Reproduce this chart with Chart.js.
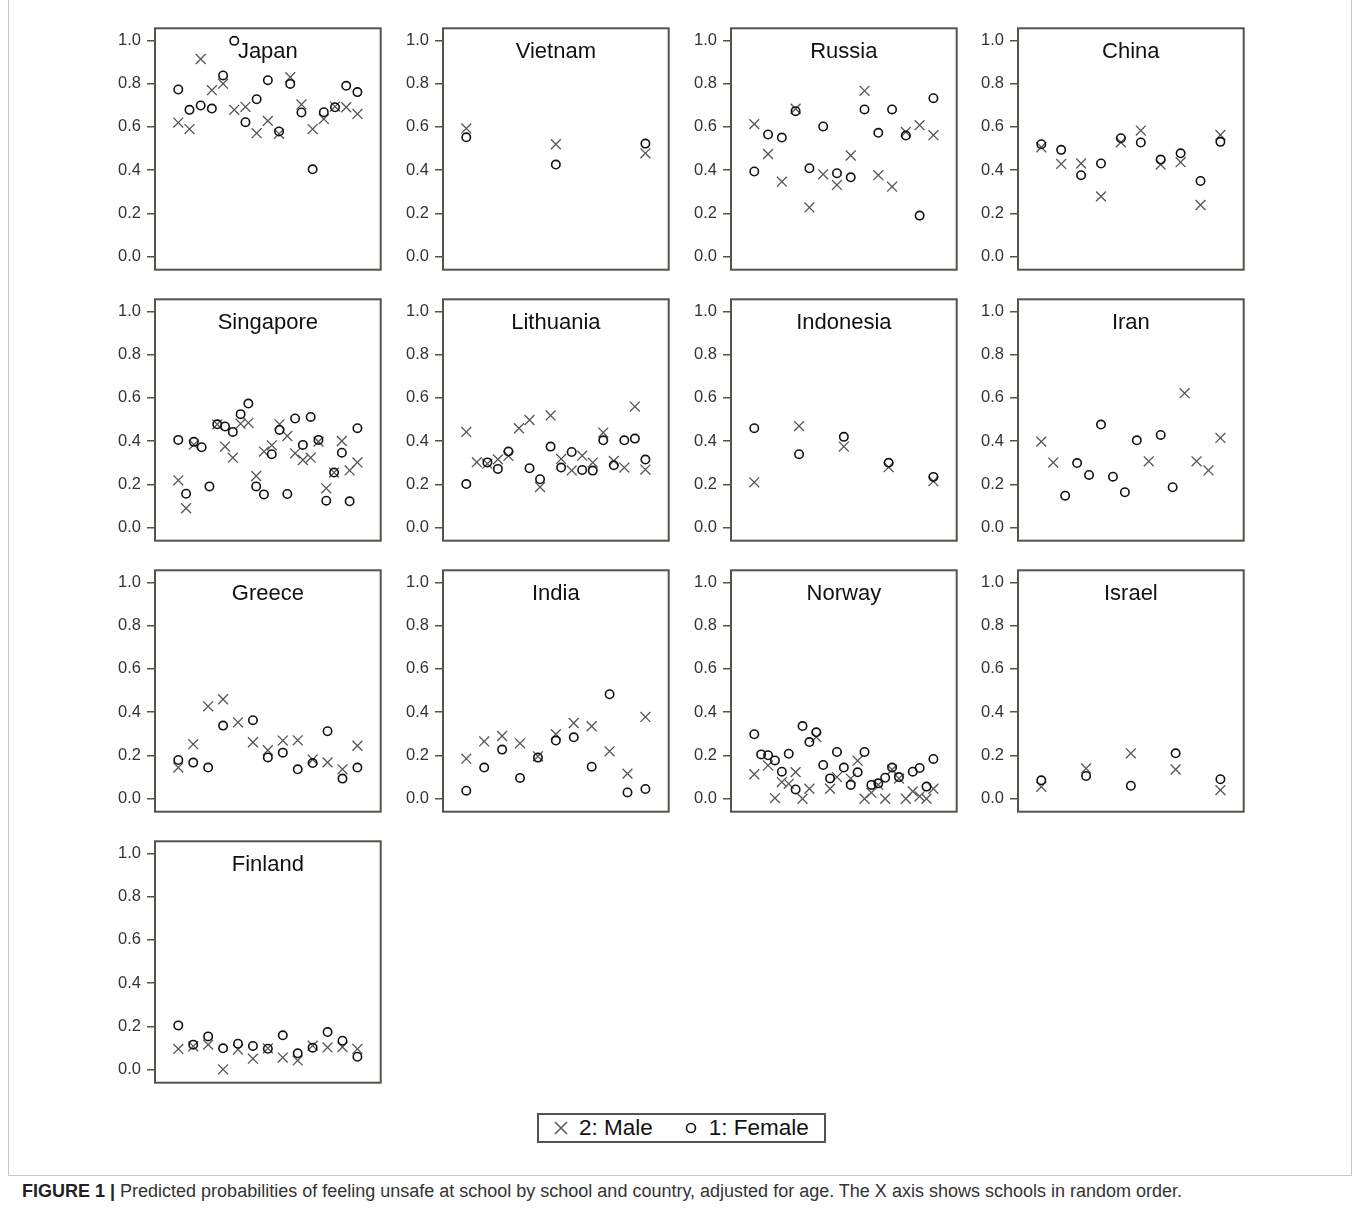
<!DOCTYPE html>
<html>
<head>
<meta charset="utf-8">
<script src="https://cdn.jsdelivr.net/npm/chart.js@4"></script>
<style>
  body { margin: 0; background: #fff; font-family: "Liberation Sans", Arial, sans-serif; }
  #page { position: relative; width: 1358px; height: 1209px; }
  #frame { position: absolute; left: 8px; top: -2px; width: 1342px; height: 1177px; border: 1px solid #c8c8c8; border-top: none; }
  .panel { position: absolute; }
  #legend { position: absolute; left: 537px; top: 1113px; width: 285px; height: 26px; border: 2px solid #57534a;
            display: flex; align-items: center; font-size: 22.5px; color: #111; }
  #legend svg { margin: 0 10px 0 14px; }
  #caption { position: absolute; left: 22px; top: 1181px; font-size: 18px; color: #333; }
  #caption b { color: #222; }
</style>
</head>
<body>
<div id="page">
  <div id="frame"></div>
  <div id="legend">
    <svg width="16" height="16"><path d="M2 2 L14 14 M14 2 L2 14" stroke="#555" stroke-width="1.5"/></svg>2: Male
    <svg width="16" height="16" style="margin-left:30px"><circle cx="8" cy="8" r="4.5" fill="none" stroke="#111" stroke-width="1.6"/></svg>1: Female
  </div>
  <div id="caption"><b>FIGURE 1 |</b> Predicted probabilities of feeling unsafe at school by school and country, adjusted for age. The X axis shows schools in random order.</div>
</div>
<script>
// Probabilidades estimadas por escuela (orden aleatorio), hombres y mujeres
const yTicks = [0, 0.2, 0.4, 0.6, 0.8, 1.0];

const japanMale = [0.62, 0.59, 0.914, 0.77, 0.80, 0.679, 0.693, 0.571, 0.628, 0.568, 0.83, 0.704, 0.59, 0.637, 0.694, 0.691, 0.66];
const japanFemale = [0.773, 0.679, 0.699, 0.685, 0.838, 0.998, 0.622, 0.728, 0.816, 0.579, 0.799, 0.667, 0.404, 0.668, 0.691, 0.79, 0.761];

const vietnamMale = [0.593, 0.52, 0.478];
const vietnamFemale = [0.552, 0.426, 0.523];

const russiaMale = [0.613, 0.475, 0.347, 0.684, 0.228, 0.381, 0.332, 0.468, 0.767, 0.377, 0.324, 0.577, 0.608, 0.562];
const russiaFemale = [0.394, 0.565, 0.551, 0.673, 0.409, 0.602, 0.386, 0.367, 0.681, 0.573, 0.681, 0.56, 0.19, 0.733];

const chinaMale = [0.506, 0.429, 0.431, 0.279, 0.529, 0.583, 0.426, 0.437, 0.239, 0.563];
const chinaFemale = [0.52, 0.494, 0.377, 0.431, 0.548, 0.528, 0.449, 0.478, 0.35, 0.531];

const singaporeMale = [0.219, 0.09, 0.384, null, null, 0.478, 0.375, 0.324, 0.481, 0.485, 0.239, 0.352, 0.381, 0.478, 0.424, 0.344, 0.313, 0.324, 0.398, 0.182, 0.255, 0.401, 0.265, 0.302];
const singaporeFemale = [0.406, 0.157, 0.397, 0.372, 0.191, 0.478, 0.468, 0.443, 0.525, 0.574, 0.191, 0.154, 0.34, 0.452, 0.156, 0.505, 0.383, 0.512, 0.406, 0.125, 0.255, 0.347, 0.122, 0.46];

const lithuaniaMale = [0.443, 0.303, 0.296, 0.316, 0.332, 0.46, 0.498, 0.188, 0.519, 0.318, 0.265, 0.333, 0.301, 0.44, 0.309, 0.278, 0.56, 0.269];
const lithuaniaFemale = [0.202, null, 0.302, 0.272, 0.352, null, 0.275, 0.224, 0.375, 0.278, 0.35, 0.267, 0.264, 0.404, 0.289, 0.404, 0.412, 0.315];

const indonesiaMale = [0.21, 0.47, 0.375, 0.28, 0.215];
const indonesiaFemale = [0.46, 0.34, 0.42, 0.30, 0.235];

const iranMale = [0.398, 0.301, null, null, null, null, null, null, null, 0.307, null, null, 0.622, 0.307, 0.265, 0.415];
const iranFemale = [null, null, 0.148, 0.299, 0.244, 0.477, 0.236, 0.164, 0.404, null, 0.429, 0.187, null, null, null, null];

const greeceMale = [0.144, 0.252, 0.427, 0.46, 0.353, 0.261, 0.224, 0.269, 0.27, 0.181, 0.168, 0.136, 0.245];
const greeceFemale = [0.179, 0.167, 0.144, 0.338, null, 0.363, 0.191, 0.213, 0.136, 0.165, 0.312, 0.093, 0.144];

const indiaMale = [0.185, 0.265, 0.29, 0.256, 0.196, 0.298, 0.35, 0.335, 0.219, 0.116, 0.378];
const indiaFemale = [0.037, 0.144, 0.227, 0.096, 0.19, 0.269, 0.284, 0.148, 0.483, 0.029, 0.045];

const norwayMale = [0.113, null, 0.154, 0.003, 0.077, 0.069, 0.123, 0.0, 0.046, 0.285, null, 0.046, 0.1, null, 0.093, 0.176, 0.0, 0.028, 0.065, 0.0, 0.134, 0.093, 0.0, 0.034, 0.011, 0.0, 0.046];
const norwayFemale = [0.298, 0.205, 0.201, 0.177, 0.125, 0.208, 0.043, 0.336, 0.262, 0.307, 0.156, 0.094, 0.216, 0.144, 0.064, 0.122, 0.216, 0.064, 0.071, 0.097, 0.144, 0.1, null, 0.125, 0.142, 0.056, 0.184];

const israelMale = [0.055, 0.14, 0.21, 0.135, 0.04];
const israelFemale = [0.085, 0.105, 0.06, 0.21, 0.09];

const finlandMale = [0.096, 0.108, 0.116, 0.002, 0.093, 0.051, 0.099, 0.056, 0.043, 0.111, 0.103, 0.105, 0.096];
const finlandFemale = [0.205, 0.116, 0.154, 0.099, 0.12, 0.11, 0.097, 0.159, 0.076, 0.102, 0.174, 0.134, 0.06];

const countries = ['Japan', 'Vietnam', 'Russia', 'China', 'Singapore', 'Lithuania', 'Indonesia', 'Iran',
                   'Greece', 'India', 'Norway', 'Israel', 'Finland'];
const maleSeries = [japanMale, vietnamMale, russiaMale, chinaMale, singaporeMale, lithuaniaMale, indonesiaMale, iranMale,
                    greeceMale, indiaMale, norwayMale, israelMale, finlandMale];
const femaleSeries = [japanFemale, vietnamFemale, russiaFemale, chinaFemale, singaporeFemale, lithuaniaFemale, indonesiaFemale, iranFemale,
                      greeceFemale, indiaFemale, norwayFemale, israelFemale, finlandFemale];

// posiciones de los marcos de cada panel
const colLeft = [155, 443, 731, 1018];
const rowTop = [27, 298, 569, 840];
const frameW = 226, frameH = 241;
const axisW = 55, pad = 5;

const frameColor = '#57534a';
const fontFamily = '"Liberation Sans", Arial, sans-serif';

// Dibuja el marco y el nombre del país dentro del área del gráfico
const panelDecor = {
  id: 'panelDecor',
  afterDatasetsDraw(chart, args, opts) {
    const a = chart.chartArea;
    const ctx = chart.ctx;
    ctx.save();
    ctx.fillStyle = '#111';
    ctx.font = '22px ' + fontFamily;
    ctx.textAlign = 'center';
    ctx.textBaseline = 'middle';
    ctx.fillText(opts.title, (a.left + a.right) / 2, a.top + 24);
    ctx.strokeStyle = frameColor;
    ctx.lineWidth = 2;
    ctx.strokeRect(a.left, a.top, a.right - a.left, a.bottom - a.top);
    ctx.restore();
  }
};

const toPoints = arr => arr.map((v, i) => ({ x: i + 1, y: v })).filter(p => p.y !== null);

countries.forEach((name, k) => {
  const col = k % 4, row = Math.floor(k / 4);
  const canvas = document.createElement('canvas');
  // ajuste: Chart.js reserva unos píxeles extra arriba/abajo/derecha
  const w = axisW + frameW + pad + 3, h = frameH + 2 * pad + 7;
  canvas.className = 'panel';
  canvas.style.left = (colLeft[col] - axisW) + 'px';
  canvas.style.top = (rowTop[row] - pad - 2) + 'px';
  canvas.style.width = w + 'px';
  canvas.style.height = h + 'px';
  canvas.width = w; canvas.height = h;
  document.getElementById('page').appendChild(canvas);

  const n = maleSeries[k].length;
  const xPad = (n - 1) * 0.13;

  new Chart(canvas.getContext('2d'), {
    type: 'scatter',
    data: {
      datasets: [
        {
          label: '1: Female',
          data: toPoints(femaleSeries[k]),
          pointStyle: 'circle',
          pointRadius: 4.2,
          pointBorderWidth: 1.6,
          borderColor: '#111',
          backgroundColor: 'rgba(0,0,0,0)'
        },
        {
          label: '2: Male',
          data: toPoints(maleSeries[k]),
          pointStyle: 'crossRot',
          pointRadius: 7,
          pointBorderWidth: 1.3,
          borderColor: '#555',
          backgroundColor: '#555'
        }
      ]
    },
    options: {
      responsive: false,
      animation: false,
      events: [],
      layout: { padding: { top: pad, bottom: pad, right: pad, left: 0 } },
      plugins: {
        legend: { display: false },
        tooltip: { enabled: false },
        panelDecor: { title: name }
      },
      scales: {
        x: { type: 'linear', display: false, min: 1 - xPad, max: n + xPad },
        y: {
          min: -0.06, max: 1.056,
          afterBuildTicks: s => { s.ticks = yTicks.map(v => ({ value: v })); },
          afterFit: s => { s.width = axisW; s.paddingTop = 0; s.paddingBottom = 0; },
          border: { display: false },
          grid: { drawOnChartArea: false, drawTicks: true, tickLength: 8, color: frameColor, lineWidth: 1.5 },
          ticks: { color: '#333', padding: 6, font: { size: 16.5, family: fontFamily }, callback: v => v.toFixed(1) }
        }
      }
    },
    plugins: [panelDecor]
  });
});
</script>
</body>
</html>
